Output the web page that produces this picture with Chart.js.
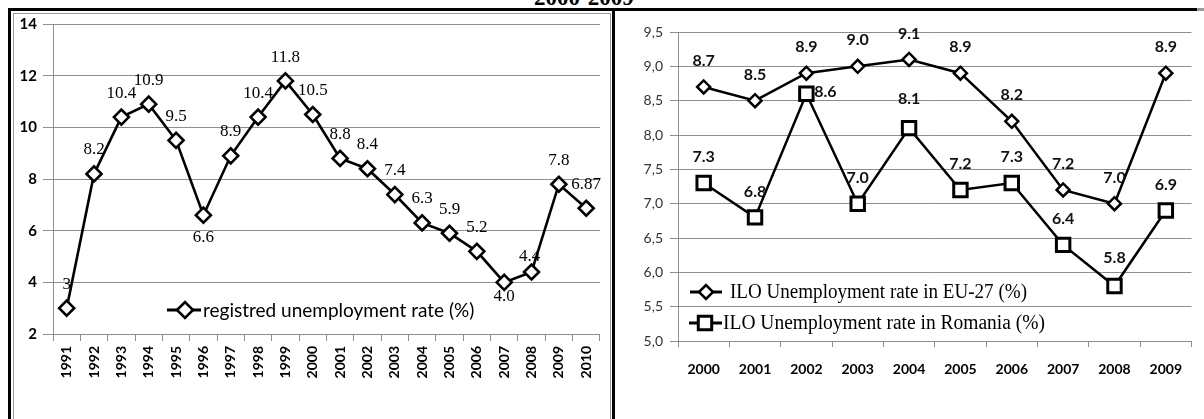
<!DOCTYPE html>
<html>
<head>
<meta charset="utf-8">
<script src="https://cdn.jsdelivr.net/npm/chart.js@4/dist/chart.umd.min.js"></script>
<style>
html,body{margin:0;padding:0;background:#fff;width:1204px;height:419px;overflow:hidden;position:relative;}
canvas{position:absolute;}
#cLeft{left:14px;top:14px;}
#cRight{left:615px;top:12px;}
.ln{position:absolute;z-index:5;}
#title{position:absolute;left:534px;top:-14px;font:bold 23px "Liberation Serif","Times New Roman",serif;line-height:23px;color:#000;white-space:nowrap;z-index:6;}
</style>
</head>
<body>
<div id="title"></div>
<canvas id="cLeft" width="596" height="405"></canvas>
<canvas id="cRight" width="589" height="407"></canvas>
<!-- frames -->
<div class="ln" style="left:8px;top:8px;width:3px;height:411px;background:#000"></div>
<div class="ln" style="left:8px;top:8px;width:1189px;height:3px;background:#000"></div>
<div class="ln" style="left:1197px;top:8px;width:7px;height:3px;background:#9a9a9a"></div>
<div class="ln" style="left:13px;top:13px;width:1px;height:406px;background:#9a9a9a"></div>
<div class="ln" style="left:13px;top:13px;width:597px;height:1px;background:#9a9a9a"></div>
<div class="ln" style="left:610px;top:13px;width:1px;height:406px;background:#9a9a9a"></div>
<div class="ln" style="left:612px;top:8px;width:3px;height:411px;background:#000"></div>
<script>
// ---------------- data ----------------
const titleText = '2000-2009';

const leftYears = ['1991','1992','1993','1994','1995','1996','1997','1998','1999','2000',
                   '2001','2002','2003','2004','2005','2006','2007','2008','2009','2010'];
const leftRates = [3, 8.2, 10.4, 10.9, 9.5, 6.6, 8.9, 10.4, 11.8, 10.5,
                   8.8, 8.4, 7.4, 6.3, 5.9, 5.2, 4.0, 4.4, 7.8, 6.87];
const leftRateLabels = ['3','8.2','10.4','10.9','9.5','6.6','8.9','10.4','11.8','10.5',
                        '8.8','8.4','7.4','6.3','5.9','5.2','4.0','4.4','7.8','6.87'];
const leftYTicks = [2, 4, 6, 8, 10, 12, 14];
const leftSeriesName = 'registred unemployment rate (%)';

const rightYears = ['2000','2001','2002','2003','2004','2005','2006','2007','2008','2009'];
const euRates = [8.7, 8.5, 8.9, 9.0, 9.1, 8.9, 8.2, 7.2, 7.0, 8.9];
const roRates = [7.3, 6.8, 8.6, 7.0, 8.1, 7.2, 7.3, 6.4, 5.8, 6.9];
const rightYTicks = [5.0, 5.5, 6.0, 6.5, 7.0, 7.5, 8.0, 8.5, 9.0, 9.5];
const euSeriesName = 'ILO Unemployment rate in EU-27 (%)';
const roSeriesName = 'ILO Unemployment rate in Romania (%)';

// ---------------- styles ----------------
document.getElementById('title').textContent = titleText;
const SANS = 'Lato, "Open Sans", "Noto Sans", sans-serif';
const SERIF = '"Liberation Serif", "Times New Roman", serif';
const GRID = '#8e8e8e';

// value labels plugin
const valueLabels = {
  id: 'valueLabels',
  afterDatasetsDraw(chart, args, opts) {
    const ctx = chart.ctx;
    ctx.save();
    (opts.sets || []).forEach(set => {
      const meta = chart.getDatasetMeta(set.dataset);
      ctx.font = set.font;
      ctx.fillStyle = set.color;
      ctx.textAlign = 'center';
      ctx.textBaseline = 'middle';
      meta.data.forEach((pt, i) => {
        const d = (set.place && set.place[i]) || set.def;
        ctx.fillText(set.text[i], pt.x + d[0], pt.y + d[1]);
      });
    });
    ctx.restore();
  }
};

// in-plot legend plugin
const boxLegend = {
  id: 'boxLegend',
  afterDraw(chart, args, opts) {
    const ctx = chart.ctx;
    ctx.save();
    ctx.font = `${opts.weight} ${opts.size}px ${opts.family}`;
    opts.items.forEach(it => {
      const ds = chart.data.datasets[it.dataset];
      ctx.strokeStyle = ds.borderColor;
      ctx.lineWidth = it.lw || ds.borderWidth;
      ctx.beginPath(); ctx.moveTo(it.x0, it.y); ctx.lineTo(it.x1, it.y); ctx.stroke();
      ctx.fillStyle = ds.pointBackgroundColor;
      ctx.strokeStyle = ds.pointBorderColor;
      ctx.lineWidth = ds.pointBorderWidth;
      Chart.helpers.drawPoint(ctx, {pointStyle: ds.pointStyle, radius: it.r || ds.pointRadius,
        borderWidth: ds.pointBorderWidth, rotation: 0}, it.px, it.y);
      ctx.fillStyle = '#000';
      ctx.textAlign = 'left';
      ctx.textBaseline = 'middle';
      ctx.fillText(ds.label, it.tx, it.y + 1, it.w);
    });
    ctx.restore();
  }
};

// ---------------- left chart ----------------
new Chart(document.getElementById('cLeft'), {
  type: 'line',
  data: {
    labels: leftYears,
    datasets: [{
      label: leftSeriesName,
      data: leftRates,
      borderColor: '#000', borderWidth: 2.6, tension: 0,
      pointStyle: 'rectRot', pointRadius: 7.5,
      pointBackgroundColor: '#fff', pointBorderColor: '#000', pointBorderWidth: 2.6
    }]
  },
  plugins: [valueLabels, boxLegend],
  options: {
    responsive: false, animation: false, devicePixelRatio: 1,
    layout: {padding: {left: 0, right: 1, top: 8, bottom: 0}},
    plugins: {
      legend: {display: false}, tooltip: {enabled: false},
      valueLabels: {sets: [{
        dataset: 0, text: leftRateLabels, font: `17px ${SERIF}`, color: '#000',
        def: [0, -24], place: {5: [0, 22], 8: [0, -23], 16: [0, 14], 17: [-2, -15]}
      }]},
      boxLegend: {family: SANS, weight: 'normal', size: 19,
        items: [{dataset: 0, x0: 153, x1: 187, px: 171, y: 296, tx: 189, w: 272, r: 8, lw: 3}]}
    },
    scales: {
      x: {
        type: 'category', offset: true,
        grid: {offset: true, drawOnChartArea: false, drawTicks: true, tickLength: 7, color: GRID},
        border: {color: GRID, width: 1},
        ticks: {minRotation: 90, maxRotation: 90, autoSkip: false, padding: 5, color: '#000',
          font: {family: SANS, weight: 'bold', size: 14}},
        afterFit(s) { s.height = 85; s.paddingLeft = 0; s.paddingRight = 0; }
      },
      y: {
        min: 2, max: 14,
        afterBuildTicks(s) { s.ticks = leftYTicks.map(v => ({value: v})); },
        grid: {color: GRID, lineWidth: 1, tickLength: 10},
        border: {color: GRID, width: 1},
        ticks: {padding: 6, color: '#000', font: {family: SANS, weight: 'bold', size: 15, lineHeight: 1}},
        afterFit(s) { s.width = 39; s.paddingTop = 0; s.paddingBottom = 0; }
      }
    }
  }
});

// ---------------- right chart ----------------
new Chart(document.getElementById('cRight'), {
  type: 'line',
  data: {
    labels: rightYears,
    datasets: [{
      label: euSeriesName,
      data: euRates,
      borderColor: '#000', borderWidth: 2.5, tension: 0,
      pointStyle: 'rectRot', pointRadius: 6.5,
      pointBackgroundColor: '#fff', pointBorderColor: '#000', pointBorderWidth: 2.5
    }, {
      label: roSeriesName,
      data: roRates,
      borderColor: '#000', borderWidth: 2.5, tension: 0,
      pointStyle: 'rect', pointRadius: 9.5,
      pointBackgroundColor: '#fff', pointBorderColor: '#000', pointBorderWidth: 3
    }]
  },
  plugins: [valueLabels, boxLegend],
  options: {
    responsive: false, animation: false, devicePixelRatio: 1,
    layout: {padding: {left: 0, right: 8, top: 20, bottom: 0}},
    plugins: {
      legend: {display: false}, tooltip: {enabled: false},
      valueLabels: {sets: [
        {dataset: 0, text: euRates.map(v => v.toFixed(1)), font: `bold 16px ${SANS}`, color: '#111',
         def: [0, -26]},
        {dataset: 1, text: roRates.map(v => v.toFixed(1)), font: `bold 16px ${SANS}`, color: '#111',
         def: [0, -26], place: {2: [19, -2], 4: [0, -29], 8: [0, -28]}}
      ]},
      boxLegend: {family: SERIF, weight: 'normal', size: 20,
        items: [
          {dataset: 0, x0: 75, x1: 107, px: 91, y: 280, tx: 115, w: 297, r: 7, lw: 3},
          {dataset: 1, x0: 74, x1: 107, px: 90, y: 311, tx: 108, w: 322, lw: 3}
        ]}
    },
    scales: {
      x: {
        type: 'category', offset: true,
        grid: {offset: true, drawOnChartArea: false, drawTicks: true, tickLength: 6, color: GRID},
        border: {color: GRID, width: 1},
        ticks: {minRotation: 0, maxRotation: 0, autoSkip: false, padding: 14, color: '#000',
          font: {family: SANS, weight: 'bold', size: 14}},
        afterFit(s) { s.height = 78; s.paddingLeft = 0; s.paddingRight = 0; }
      },
      y: {
        min: 5, max: 9.5,
        afterBuildTicks(s) { s.ticks = rightYTicks.map(v => ({value: v})); },
        grid: {color: GRID, lineWidth: 1, tickLength: 8},
        border: {color: GRID, width: 1},
        ticks: {padding: 7, color: '#333', font: {family: SANS, size: 14, lineHeight: 1},
          callback: v => Number(v).toFixed(1).replace('.', ',')},
        afterFit(s) { s.width = 63; s.paddingTop = 0; s.paddingBottom = 0; }
      }
    }
  }
});
</script>
</body>
</html>
